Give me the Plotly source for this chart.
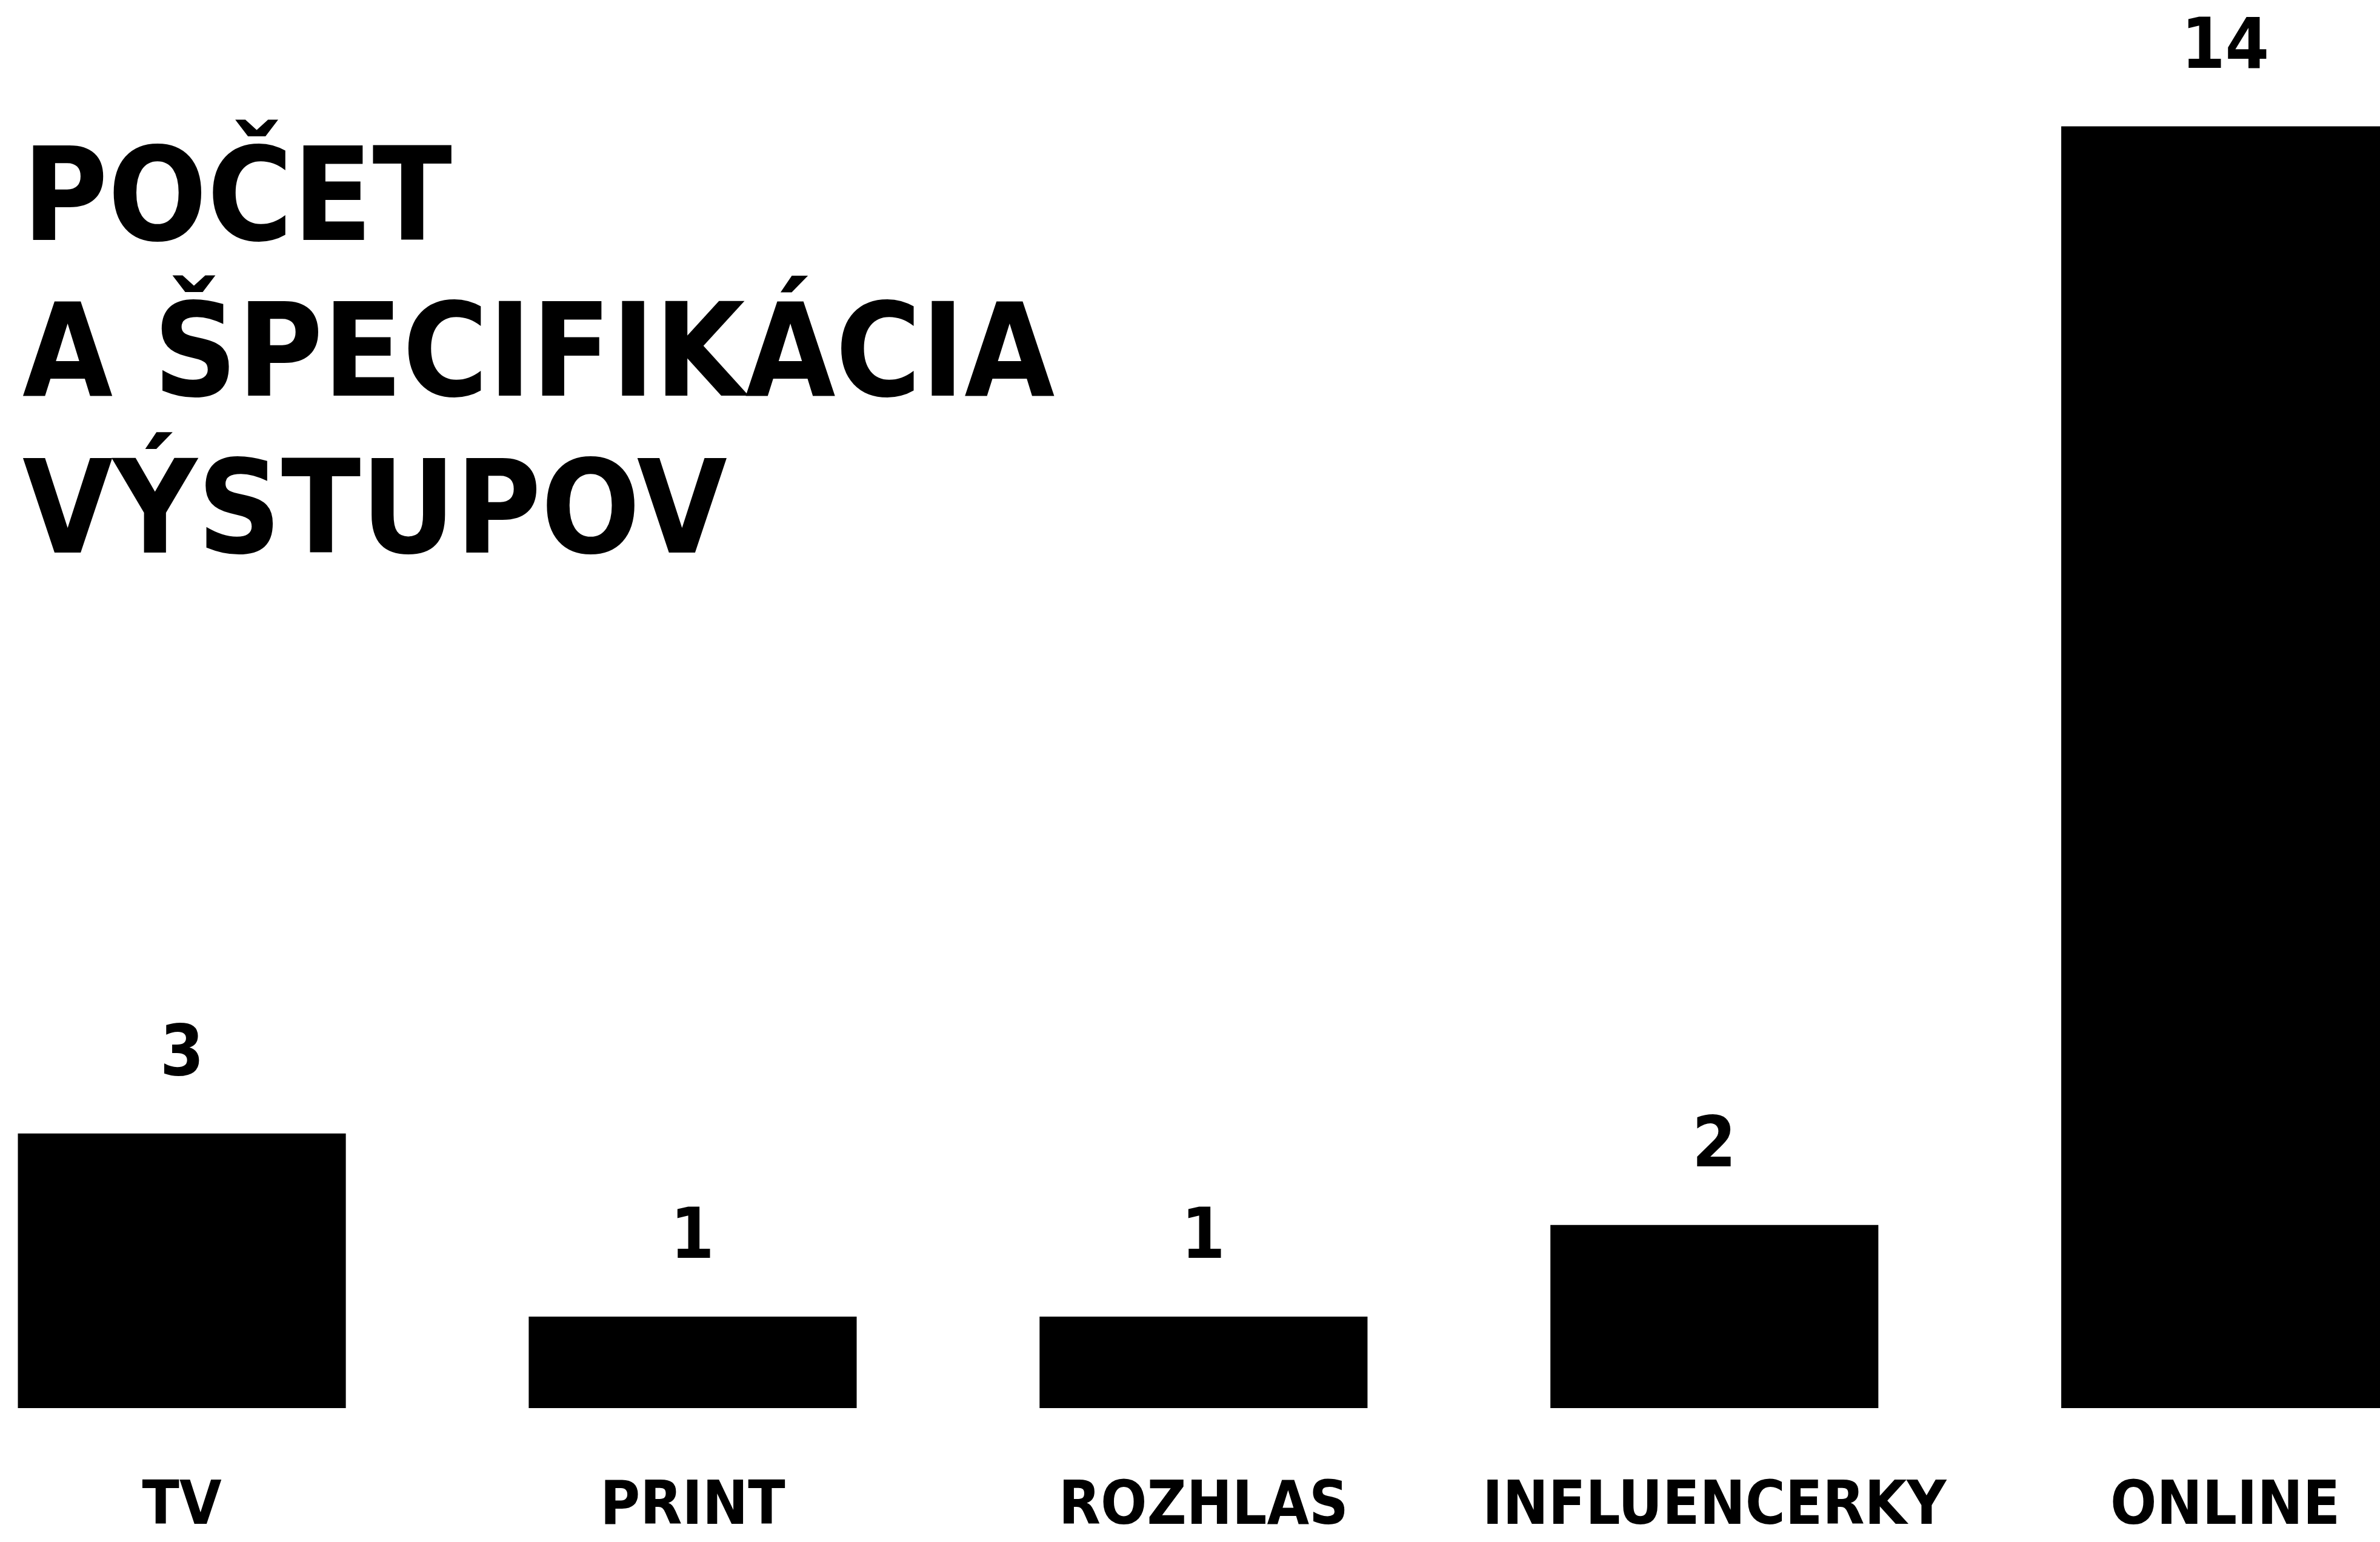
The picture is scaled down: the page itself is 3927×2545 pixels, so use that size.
import plotly.graph_objects as go

categories = ["TV", "PRINT", "ROZHLAS", "INFLUENCERKY", "ONLINE"]
values = [3, 1, 1, 2, 14]
title_lines = ["POČET", "A ŠPECIFIKÁCIA", "VÝSTUPOV"]

FONT = "DejaVu Sans Condensed, Liberation Sans Narrow, Arial Narrow, sans-serif"
W, H = 3927, 2545
PLOT_H = 2324

fig = go.Figure()
fig.add_trace(go.Bar(
    x=categories, y=values, width=0.642,
    marker=dict(color="#000000", line=dict(width=0)),
    hoverinfo="skip",
))

# value labels above bars
for c, v in zip(categories, values):
    fig.add_annotation(
        x=c, y=v, xref="x", yref="y", text=str(v), showarrow=False,
        xanchor="center", yanchor="bottom", yshift=68,
        font=dict(family=FONT, size=116, color="#000000", weight="bold"),
    )

# title lines
title_centers = [321, 578, 837]
for line, cy in zip(title_lines, title_centers):
    fig.add_annotation(
        x=35 / W, y=1 - cy / PLOT_H, xref="paper", yref="paper",
        text=line, showarrow=False, xanchor="left", yanchor="middle",
        font=dict(family=FONT, size=214, color="#000000", weight="bold"),
    )

fig.update_layout(
    width=W, height=H,
    margin=dict(l=0, r=0, t=0, b=H - PLOT_H, pad=0, autoexpand=False),
    paper_bgcolor="#ffffff", plot_bgcolor="#ffffff",
    showlegend=False,
    bargap=0.358,
    xaxis=dict(
        type="category", range=[-0.356, 4.303], automargin=False,
        showgrid=False, zeroline=False, showline=False, ticks="",
        tickfont=dict(family=FONT, size=100, color="#000000", weight="bold"),
        ticklabelstandoff=90,
    ),
    yaxis=dict(range=[0, 15.38], visible=False, showgrid=False, zeroline=False,
               automargin=False),
)

fig.write_html("out.html")
